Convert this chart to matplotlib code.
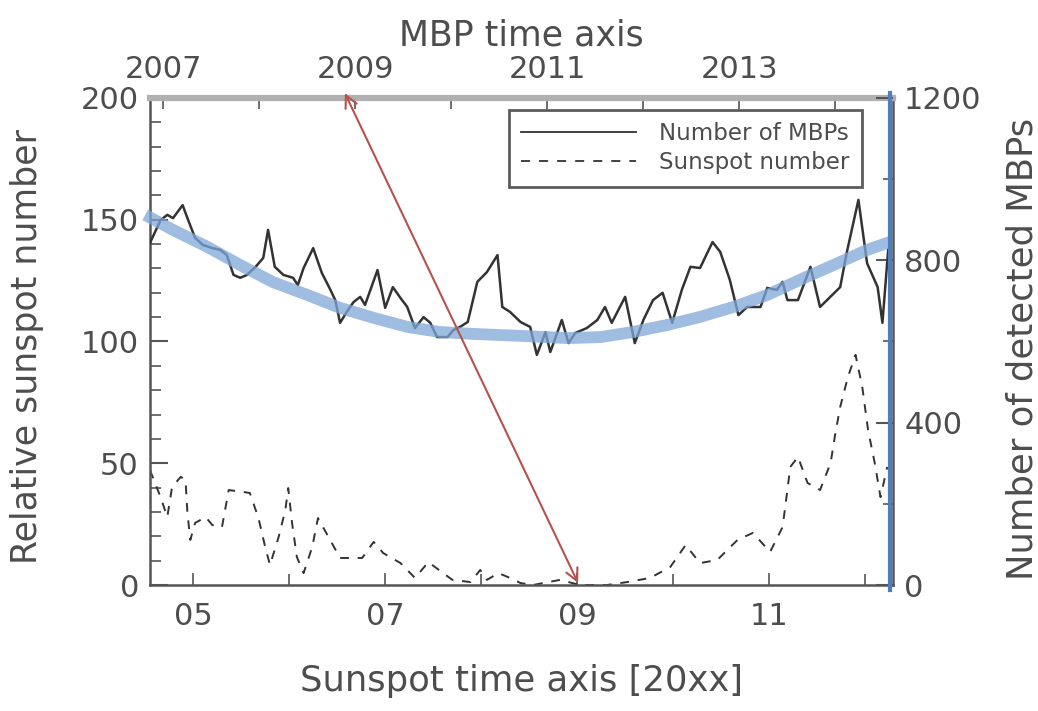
import numpy as np
import matplotlib
matplotlib.use("Agg")
import matplotlib.pyplot as plt
from matplotlib.lines import Line2D

# ---------------------------------------------------------------------------
# data (x in sunspot-axis years, MBP time = sunspot time + offset)
# ---------------------------------------------------------------------------
MBP_OFFSET = 2.3125

mbp_year = [2004.55, 2004.66, 2004.73, 2004.79, 2004.89, 2004.94, 2005.02, 2005.10,
            2005.20, 2005.28, 2005.35, 2005.42, 2005.49, 2005.56, 2005.65, 2005.73,
            2005.78, 2005.85, 2005.94, 2006.04, 2006.09, 2006.15, 2006.25, 2006.34,
            2006.43, 2006.48, 2006.53, 2006.60, 2006.67, 2006.74, 2006.79, 2006.92,
            2007.00, 2007.08, 2007.16, 2007.23, 2007.31, 2007.40, 2007.47, 2007.54,
            2007.65, 2007.71, 2007.78, 2007.86, 2007.96, 2008.06, 2008.17, 2008.22,
            2008.30, 2008.41, 2008.51, 2008.58, 2008.67, 2008.72, 2008.84, 2008.91,
            2008.98, 2009.10, 2009.21, 2009.29, 2009.36, 2009.50, 2009.60, 2009.69,
            2009.79, 2009.89, 2009.99, 2010.09, 2010.18, 2010.28, 2010.41, 2010.49,
            2010.59, 2010.68, 2010.77, 2010.91, 2010.98, 2011.08, 2011.14, 2011.19,
            2011.30, 2011.43, 2011.53, 2011.74, 2011.81, 2011.93, 2012.02, 2012.13,
            2012.18, 2012.24]
mbp_count = [843, 899, 912, 904, 936, 904, 855, 838,
             830, 826, 813, 764, 757, 764, 784, 806,
             875, 784, 764, 757, 739, 781, 830, 769,
             727, 702, 646, 673, 697, 710, 690, 776,
             683, 734, 707, 685, 633, 660, 646, 611,
             611, 628, 636, 648, 747, 771, 813, 685,
             673, 648, 636, 567, 623, 574, 653, 596,
             621, 633, 653, 685, 646, 710, 596, 653,
             702, 720, 646, 727, 784, 781, 845, 821,
             752, 665, 685, 685, 732, 727, 747, 702,
             702, 784, 685, 734, 821, 949, 793, 734,
             646, 826]

sun_year = [2004.55, 2004.66, 2004.73, 2004.78, 2004.87, 2004.92, 2004.94, 2004.97,
            2005.02, 2005.13, 2005.20, 2005.30, 2005.37, 2005.52, 2005.59, 2005.68,
            2005.75, 2005.80, 2005.89, 2005.96, 2005.99, 2006.03, 2006.08, 2006.15,
            2006.24, 2006.30, 2006.41, 2006.53, 2006.60, 2006.76, 2006.88, 2006.98,
            2007.16, 2007.31, 2007.45, 2007.70, 2007.89, 2007.99, 2008.06, 2008.18,
            2008.30, 2008.41, 2008.54, 2008.82, 2009.03, 2009.31, 2009.52, 2009.76,
            2009.97, 2010.13, 2010.28, 2010.46, 2010.67, 2010.83, 2011.01, 2011.14,
            2011.19, 2011.22, 2011.30, 2011.40, 2011.53, 2011.64, 2011.69, 2011.74,
            2011.82, 2011.90, 2011.97, 2012.03, 2012.10, 2012.16, 2012.23]
sun_value = [47.2, 36.1, 27.9, 40.2, 44.4, 43.1, 29.6, 18.5,
             25.5, 27.9, 24.6, 23.8, 39.0, 38.2, 37.8, 27.5,
             15.6, 8.2, 19.7, 30.8, 39.8, 25.5, 11.5, 4.9,
             15.6, 27.5, 19.7, 11.1, 11.1, 11.1, 17.7, 13.1,
             9.0, 2.9, 9.4, 2.1, 1.2, 6.2, 2.1, 4.9,
             2.9, 0.8, 0.0, 2.1, 0.0, 0.0, 1.2, 2.9,
             7.4, 16.4, 9.0, 10.3, 18.5, 21.4, 13.6, 23.8,
             39.0, 48.5, 52.6, 41.9, 39.0, 50.1, 62.4, 73.1,
             85.4, 94.5, 81.3, 63.7, 50.1, 36.1, 48.5]

# hand-drawn overlay (sunspot-axis years, left-axis units)
trend_year = [2004.50, 2004.79, 2005.15, 2005.49, 2005.83, 2006.19, 2006.53, 2006.88,
              2007.23, 2007.57, 2007.92, 2008.41, 2008.90, 2009.24, 2009.58, 2009.94,
              2010.28, 2010.63, 2010.98, 2011.32, 2011.67, 2012.02, 2012.26]
trend_value = [152.0, 145.8, 138.8, 131.4, 124.4, 119.1, 113.8, 109.7,
               106.0, 103.9, 103.1, 102.3, 101.4, 101.8, 103.9, 106.8,
               110.1, 114.2, 119.1, 125.3, 131.4, 137.6, 140.9]
arrow_start = (2006.58, 202.0)
arrow_end = (2009.01, 0.8)
marker_year = 2012.26

TXT = "#4d4d4d"
AXC = "#555555"

plt.rcParams["font.family"] = ["DejaVu Sans"]

fig = plt.figure(figsize=(10.38, 7.11), dpi=100)
ax = fig.add_axes([0.1445, 0.1772, 0.7158, 0.6850])
ax2 = ax.twinx()

ax.plot(sun_year, sun_value, color="#333333", lw=1.4, dashes=(4.5, 4.5))
ax2.plot(mbp_year, mbp_count, color="#333333", lw=1.8)

ax.set_xlim(2004.55, 2012.29)
ax.set_ylim(0, 200)
ax2.set_ylim(0, 1200)

# ticks
ax.set_xticks([2005, 2007, 2009, 2011])
ax.set_xticklabels(["05", "07", "09", "11"])
ax.set_xticks(np.arange(2005, 2013, 1), minor=True)
ax.set_yticks([0, 50, 100, 150, 200])
ax.set_yticks(np.arange(0, 201, 10), minor=True)
ax2.set_yticks([0, 400, 800, 1200])
ax2.set_yticks(np.arange(0, 1201, 200), minor=True)

ax.tick_params(axis="both", which="both", direction="in", colors=AXC,
               labelcolor=TXT, labelsize=22)
ax.tick_params(axis="y", which="major", length=13, width=1.5, pad=8)
ax.tick_params(axis="y", which="minor", length=8, width=1.2)
ax.tick_params(axis="x", which="major", length=9, width=1.2, pad=12)
ax.tick_params(axis="x", which="minor", length=8, width=1.2)
ax2.tick_params(axis="y", which="both", direction="in", colors=AXC,
                labelcolor=TXT, labelsize=22, pad=8)
ax2.tick_params(axis="y", which="major", length=12, width=1.5)
ax2.tick_params(axis="y", which="minor", length=7, width=1.2)

top = ax.secondary_xaxis("top", functions=(lambda x: x + MBP_OFFSET,
                                           lambda x: x - MBP_OFFSET))
top.set_xticks([2007, 2009, 2011, 2013])
top.set_xticks(np.arange(2007, 2015, 1), minor=True)
top.tick_params(axis="x", which="both", direction="in", colors=AXC,
                labelcolor=TXT, labelsize=22, length=8, width=1.2, pad=10)
top.spines["top"].set_visible(False)
top.set_xlabel("MBP time axis", fontsize=25, color=TXT, labelpad=7)

ax.set_xlabel("Sunspot time axis [20xx]", fontsize=25.5, color=TXT, labelpad=24)
ax.set_ylabel("Relative sunspot number", fontsize=25, color=TXT)
ax2.set_ylabel("Number of detected MBPs", fontsize=25.5, color=TXT)
ax.yaxis.set_label_coords(-0.142, 0.49)
ax2.yaxis.set_label_coords(1.152, 0.485)

for s in ["left", "bottom", "right"]:
    ax.spines[s].set_color(AXC)
    ax.spines[s].set_linewidth(1.8)
ax.spines["top"].set_color("#b0b0b0")
ax.spines["top"].set_linewidth(4.5)
for s in ax2.spines.values():
    s.set_visible(False)

# legend
handles = [Line2D([], [], color="#333333", lw=1.3),
           Line2D([], [], color="#333333", lw=1.3, dashes=(5, 5))]
leg = ax2.legend(handles, ["Number of MBPs", "Sunspot number"],
                 loc="upper right", bbox_to_anchor=(0.958, 0.976),
                 borderaxespad=0, fancybox=False, fontsize=16.5,
                 handlelength=5.0, handletextpad=1.0, borderpad=0.55,
                 labelspacing=0.25)
leg.get_frame().set_edgecolor("#333333")
leg.get_frame().set_linewidth(2)
for t in leg.get_texts():
    t.set_color(TXT)

# overlays drawn on top
ax2.plot(trend_year, trend_value, transform=ax.transData, color="#7fa6d8",
         lw=8.5, alpha=0.75, solid_capstyle="butt", solid_joinstyle="round",
         clip_on=False, zorder=5)
ax2.plot([marker_year, marker_year], [-2, 202], transform=ax.transData,
         color="#4a7fc1", lw=3, clip_on=False, zorder=6)
ax2.annotate("", xy=arrow_end, xytext=arrow_start,
             xycoords=ax.transData, textcoords=ax.transData,
             arrowprops=dict(arrowstyle="<->", color="#b5524e", lw=1.5,
                             mutation_scale=22, shrinkA=0, shrinkB=0),
             annotation_clip=False, zorder=7)

fig.savefig("out.png", dpi=100)
